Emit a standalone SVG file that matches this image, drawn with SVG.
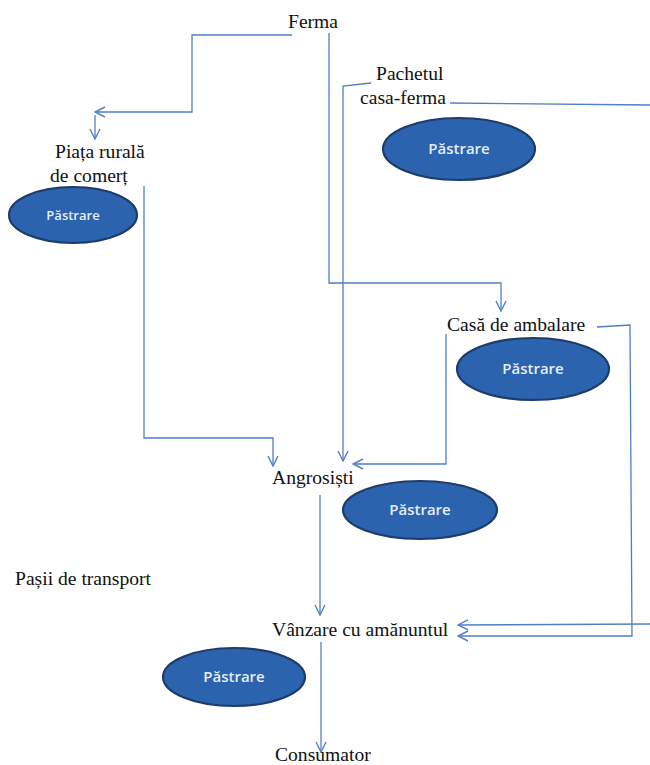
<svg xmlns="http://www.w3.org/2000/svg" width="650" height="765" viewBox="0 0 650 765">
<defs>
<marker id="ah" viewBox="0 0 12 12" refX="11" refY="6" markerWidth="12" markerHeight="12" markerUnits="userSpaceOnUse" orient="auto">
<polyline points="1,1 11,6 1,11" fill="none" stroke="#4f7fc4" stroke-width="1.4"/>
</marker>
<style>
.lbl{font-family:"Liberation Serif","Times New Roman",serif;font-size:19.6px;fill:#111}
.ell{fill:#2b63ae;stroke:#1d3c6b;stroke-width:2.2}
.et{font-family:"Open Sans","Liberation Sans",sans-serif;font-weight:600;font-size:15px;fill:#e6edf7;text-anchor:middle}
.c{fill:none;stroke:#4f7fc4;stroke-width:1.3}
</style>
</defs>
<rect width="650" height="765" fill="#fff"/>
<g id="connectors">
<polyline class="c" points="292,35 192,35 192,112 95,112" marker-end="url(#ah)"/>
<line class="c" x1="95" y1="115" x2="95" y2="139" marker-end="url(#ah)"/>
<polyline class="c" points="329,33 329,283 501,283 501,311" marker-end="url(#ah)"/>
<polyline class="c" points="371,83 343,86 343,461" marker-end="url(#ah)"/>
<line class="c" x1="450" y1="103" x2="650" y2="105"/>
<polyline class="c" points="144,186 144,438 273,438 273,466" marker-end="url(#ah)"/>
<polyline class="c" points="446,334 446,464 353,464" marker-end="url(#ah)"/>
<polyline class="c" points="597,327 630,325 632,636 458,636" marker-end="url(#ah)"/>
<line class="c" x1="650" y1="624" x2="458" y2="625" marker-end="url(#ah)"/>
<line class="c" x1="320" y1="495" x2="320" y2="615" marker-end="url(#ah)"/>
<line class="c" x1="321" y1="642" x2="321" y2="752" marker-end="url(#ah)"/>
</g>
<g id="ferma"><text class="lbl" x="288" y="28">Ferma</text></g>
<g id="pachetul"><text class="lbl" x="376" y="80">Pachetul</text><text class="lbl" x="360" y="104">casa-ferma</text></g>
<g id="pastrare1"><ellipse class="ell" cx="459" cy="149" rx="76" ry="31"/><text class="et" x="459" y="154">Păstrare</text></g>
<g id="piata"><text class="lbl" x="55" y="158">Piața rurală</text><text class="lbl" x="50" y="182">de comerț</text></g>
<g id="pastrare2"><ellipse class="ell" cx="73" cy="215" rx="64" ry="28"/><text class="et" x="73" y="220" style="font-size:13px">Păstrare</text></g>
<g id="casa"><text class="lbl" x="447" y="331">Casă de ambalare</text></g>
<g id="pastrare3"><ellipse class="ell" cx="533" cy="369" rx="76" ry="31"/><text class="et" x="533" y="374">Păstrare</text></g>
<g id="angrosisti"><text class="lbl" x="272" y="484">Angrosiști</text></g>
<g id="pastrare4"><ellipse class="ell" cx="420" cy="510" rx="77" ry="29"/><text class="et" x="420" y="515">Păstrare</text></g>
<g id="pasii"><text class="lbl" x="15" y="585">Pașii de transport</text></g>
<g id="vanzare"><text class="lbl" x="272" y="636">Vânzare cu amănuntul</text></g>
<g id="pastrare5"><ellipse class="ell" cx="234" cy="677" rx="71" ry="29"/><text class="et" x="234" y="682">Păstrare</text></g>
<g id="consumator"><text class="lbl" x="275" y="761">Consumator</text></g>
</svg>
